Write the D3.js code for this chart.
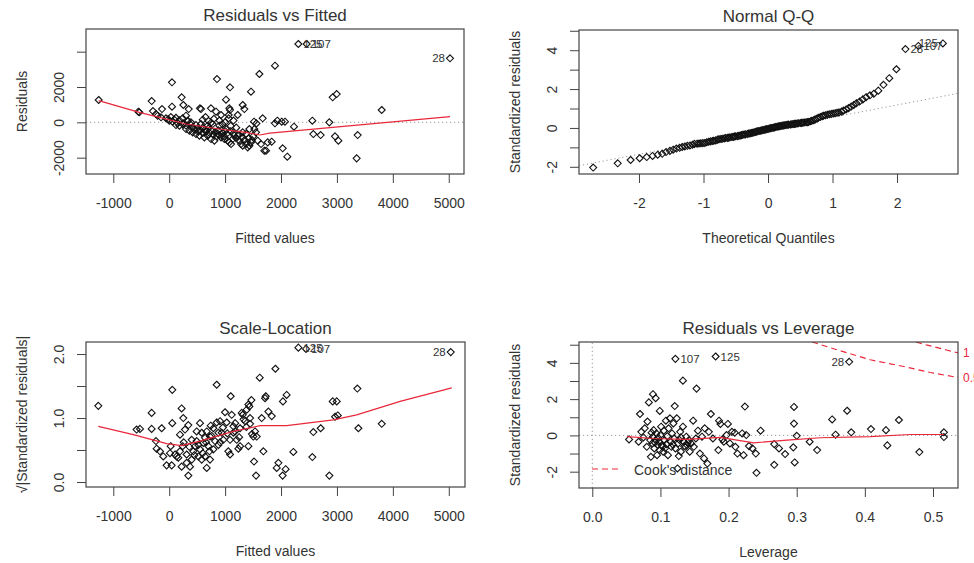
<!DOCTYPE html>
<html>
<head>
<meta charset="utf-8">
<script src="https://cdn.jsdelivr.net/npm/d3@7"></script>
<style>
  body { margin: 0; background: #fff; }
  svg { font-family: "Liberation Sans", Arial, sans-serif; }
</style>
</head>
<body>
<script>
// ---- data ----

// Residuals vs Fitted: [fitted, residual, id]
var rvfPoints = [
  [-1261,1264],[-552,603],[-534,566],[-313,1207],[-290,640],[-128,754],[-236,471],[-206,377],[-146,283],[-57,226],
  [3,94],[30,300],[-20,180],[60,40],[92,151],[120,260],[152,-38],[180,120],[50,2264],[50,886],
  [223,1415],[253,981],[349,754],[301,377],[241,226],[260,-60],[300,-180],[330,60],[380,-120],[420,-280],
  [551,792],[569,754],[748,792],[855,2452],[838,603],[927,415],[1016,1283],[1088,1981],[1076,792],[1088,697],
  [1064,226],[1064,415],[1225,415],[1315,981],[1344,754],[1463,1735],[1613,2736],[1672,226],[1892,3207],[1517,38],[1560,-60],
  [301,-378],[361,-472],[420,-567],[480,-661],[540,-755],[599,-600],[629,-850],[689,-755],[748,-944],[808,-1038],
  [867,-640],[927,-850],[987,-944],[1046,-1038],[1076,-1133],[1106,-1227],[1136,-944],[1166,-755],[1255,-1038],[1285,-1227],
  [1315,-1322],[1374,-1227],[1404,-1416],[1434,-1322],[1464,-1133],[1523,-378],[1553,-567],[1583,-1038],[1643,-1227],[1702,-1605],
  [1732,-1605],[1762,-1133],[1434,-378],[1315,-567],[1225,-755],[1016,-378],[897,-189],[778,-95],[689,-189],[569,-95],
  [480,-152],[390,-1],[331,94],[241,-95],[182,-189],[122,-152],
  [450,-400],[500,-350],[520,-500],[560,-450],[600,-300],[640,-420],[660,-520],[700,-350],[720,-600],[760,-480],
  [790,-700],[820,-560],[850,-800],[880,-450],[900,-720],[950,-600],[980,-780],[1000,-500],[1030,-650],[1100,-500],
  [1150,-620],[1200,-900],[1250,-700],[1300,-850],[1350,-1000],[1380,-650],[1420,-900],[1480,-1000],[1500,-800],
  [600,150],[650,300],[700,80],[750,-20],[800,200],[900,100],[950,-100],[1000,0],[1100,-200],[1150,100],[1200,-300],
  [2310,4434,"125"],[2459,4434,"107"],[5023,3622,"28"],[2924,1415],[2996,1603],[3801,698],[1934,94],[1892,-57],[2012,38],[2071,38],
  [2232,-246],[2560,94],[2864,-1],[2578,-661],[2709,-718],[2966,-793],[3026,-1038],[3371,-718],[3353,-2039],[1833,-1095],
  [2030,-1472],[2113,-1944]
];
var rvfSmooth = [[-1261,1225],[-535,568],[300,-94],[896,-377],[1372,-566],[1620,-715],[1800,-610],[5024,320]];

// Normal Q-Q: [theoretical quantile, standardized residual, id]
var qqPoints = [
  [-2.71,-2.04],[-2.33,-1.82],[-2.13,-1.65],[-1.99,-1.56],[-1.88,-1.50],[-1.79,-1.44],[-1.71,-1.38],[-1.64,-1.33],
  [-1.58,-1.24],[-1.52,-1.18],[-1.47,-1.12],[-1.42,-1.06],[-1.37,-1.02],[-1.33,-0.98],[-1.29,-0.95],[-1.25,-0.92],
  [-1.21,-0.90],[-1.17,-0.86],[-1.14,-0.82],[-1.10,-0.81],[-1.07,-0.80],[-1.04,-0.79],[-1.01,-0.78],[-0.98,-0.77],
  [-0.95,-0.74],[-0.92,-0.71],[-0.89,-0.69],[-0.86,-0.67],[-0.84,-0.66],[-0.81,-0.64],[-0.78,-0.60],[-0.76,-0.58],
  [-0.73,-0.57],[-0.71,-0.56],[-0.68,-0.54],[-0.66,-0.52],[-0.63,-0.51],[-0.61,-0.50],[-0.59,-0.48],[-0.56,-0.47],
  [-0.54,-0.46],[-0.52,-0.44],[-0.50,-0.43],[-0.47,-0.42],[-0.45,-0.40],[-0.43,-0.39],[-0.41,-0.37],[-0.39,-0.35],
  [-0.37,-0.34],[-0.35,-0.33],[-0.32,-0.31],[-0.30,-0.29],[-0.28,-0.28],[-0.26,-0.26],[-0.24,-0.25],[-0.22,-0.23],
  [-0.20,-0.21],[-0.18,-0.19],[-0.16,-0.17],[-0.14,-0.16],[-0.12,-0.14],[-0.10,-0.13],[-0.08,-0.11],[-0.06,-0.10],
  [-0.04,-0.08],[-0.02,-0.06],[0.00,-0.05],[0.02,-0.03],[0.04,-0.01],[0.06,0.00],[0.08,0.01],[0.10,0.03],
  [0.12,0.05],[0.14,0.06],[0.16,0.08],[0.18,0.09],[0.20,0.10],[0.22,0.12],[0.24,0.13],[0.26,0.14],
  [0.28,0.15],[0.30,0.16],[0.32,0.17],[0.35,0.18],[0.37,0.19],[0.39,0.20],[0.41,0.21],[0.43,0.22],
  [0.45,0.23],[0.47,0.24],[0.50,0.25],[0.52,0.26],[0.54,0.27],[0.56,0.28],[0.59,0.29],[0.61,0.30],
  [0.63,0.31],[0.66,0.34],[0.68,0.37],[0.71,0.40],[0.73,0.44],[0.76,0.48],[0.78,0.52],[0.81,0.56],
  [0.84,0.60],[0.86,0.63],[0.89,0.65],[0.92,0.68],[0.95,0.70],[0.98,0.72],[1.01,0.74],[1.04,0.76],
  [1.07,0.78],[1.10,0.80],[1.14,0.84],[1.17,0.89],[1.21,0.95],[1.25,1.02],[1.29,1.10],[1.33,1.18],
  [1.37,1.27],[1.42,1.36],[1.47,1.47],[1.52,1.58],[1.58,1.68],[1.64,1.76],[1.71,1.92],[1.79,2.22],
  [1.88,2.56],[1.99,3.02],[2.13,4.06,"28"],[2.33,4.22,"107"],[2.71,4.35,"125"]
];
var qqLine = [[-2.93,-1.94],[2.945,1.78]];

// Scale-Location: [fitted, sqrt(|standardized residual|), id]
var slPoints = [
  [-1268,1.19],[-583,0.82],[-523,0.83],[-314,1.08],[-314,0.83],[-135,0.84],[55,1.44],[55,0.92],[222,1.15],[252,1.00],
  [342,0.89],[-237,0.64],[-225,0.52],[-165,0.48],[-106,0.40],[-46,0.26],[44,0.26],[14,0.45],[26,0.56],[104,0.43],
  [163,0.38],[193,0.48],[240,0.56],[312,0.43],[342,0.10],[372,0.24],[402,0.35],[432,0.48],[462,0.56],[491,0.64],
  [521,0.40],[551,0.51],[581,0.35],[611,0.61],[641,0.69],[671,0.22],[700,0.56],[730,0.71],[551,0.92],[742,0.88],
  [849,1.52],[849,0.93],[909,0.95],[790,0.51],[820,0.64],[909,0.62],[938,0.77],[998,1.09],[1028,0.93],[1058,0.48],
  [1088,0.43],[1100,1.34],[1118,1.05],[1148,0.87],[1177,0.79],[1207,0.66],[1237,0.52],[1267,0.84],[1297,1.08],[1315,1.05],
  [1357,0.95],[1386,1.13],[1416,1.21],[1434,1.18],[1446,1.00],[1416,0.56],[1446,0.91],[1470,1.28],[1505,0.71],[1517,0.32],
  [1535,0.79],[1553,0.10],[1565,0.71],[1619,1.63],[1654,1.00],[1684,0.48],[1714,1.31],[1726,1.34],[1774,1.10],[1834,1.03],
  [1899,1.77],[1923,0.22],[1953,0.30],[2028,0.10],[2034,1.26],[2082,0.20],[2100,1.36],[2220,0.47],
  [2310,2.10,"125"],[2447,2.08,"107"],[2560,0.39],[2578,0.78],[2709,0.84],[2864,0.10],[2924,1.26],[2996,1.26],
  [2966,1.02],[3014,1.04],[3383,0.84],[3365,1.46],[3801,0.91],[5035,2.03,"28"],
  [193,0.74],[282,0.82],[402,0.66],[491,0.79],[581,0.77],[671,0.79],[790,0.84],[879,0.77],[968,0.66],[1267,0.56],
  [1088,0.66],[1148,0.77],[641,0.40],[730,0.35],[312,0.30],[222,0.24],[133,0.40],[260,0.62],[360,0.55],[450,0.42],
  [520,0.58],[600,0.45],[660,0.62],[720,0.48],[760,0.72],[880,0.58],[960,0.85],[1040,0.76],[1180,0.92],[1330,0.98],
  [1380,0.86],[1480,0.75],[1250,0.70]
];
var slSmooth = [[-1268,0.87],[-642,0.74],[-46,0.60],[225,0.57],[550,0.64],[1147,0.79],[1624,0.88],[2101,0.88],
  [2936,0.97],[3353,1.05],[4129,1.26],[5053,1.47]];

// Residuals vs Leverage: [leverage, standardized residual, id]
var rvlPoints = [
  [0.054,-0.22],[0.068,-0.35],[0.070,1.18],[0.072,0.20],[0.075,-0.11],[0.077,0.39],[0.080,-0.63],[0.081,0.76],
  [0.083,1.82],[0.085,-0.26],[0.086,-1.18],[0.087,0.15],[0.088,-0.44],[0.089,2.27],[0.089,-0.07],[0.090,0.29],
  [0.091,-0.72],[0.093,2.05],[0.093,-0.26],[0.094,0.11],[0.095,-1.09],[0.096,-0.53],[0.098,-0.35],[0.099,1.35],
  [0.099,-0.81],[0.100,0.02],[0.101,0.48],[0.103,-0.63],[0.104,-0.90],[0.105,0.26],[0.106,-0.26],[0.108,0.81],
  [0.109,-0.48],[0.110,-0.04],[0.111,-1.09],[0.112,0.39],[0.114,0.94],[0.115,-0.35],[0.116,-0.63],[0.117,0.11],
  [0.119,0.66],[0.120,-0.17],[0.121,1.62],[0.122,4.22,"107"],[0.122,-0.72],[0.124,0.94],[0.125,-1.82],[0.126,-0.44],
  [0.127,-1.14],[0.129,0.20],[0.130,-0.90],[0.130,-0.11],[0.133,3.02],[0.133,0.48],[0.134,-0.35],[0.137,-0.63],
  [0.138,-0.07],[0.139,-0.53],[0.142,-0.26],[0.143,-0.90],[0.145,-0.44],[0.148,0.81],[0.149,-0.63],[0.152,-0.17],
  [0.153,2.58],[0.155,0.26],[0.158,-1.00],[0.161,-0.07],[0.164,-1.27],[0.165,0.39],[0.169,-1.55],[0.171,0.20],
  [0.174,1.18],[0.177,-0.17],[0.181,4.35,"125"],[0.185,-0.81],[0.186,0.81],[0.188,0.63],[0.191,-0.22],[0.193,-0.35],
  [0.197,0.02],[0.199,0.63],[0.202,-0.44],[0.205,0.20],[0.209,0.15],[0.210,-0.63],[0.213,-1.00],[0.220,0.11],
  [0.222,-1.09],[0.224,1.59],[0.226,0.02],[0.230,-0.59],[0.235,-0.72],[0.240,-1.00],[0.241,-2.06],[0.247,0.26],
  [0.267,-0.48],[0.267,-1.62],[0.274,-0.72],[0.283,-1.03],[0.295,-0.66],[0.296,1.57],[0.296,0.65],[0.297,-1.49],
  [0.300,-0.02],[0.319,-0.35],[0.330,-0.81],[0.352,0.88],[0.357,0.04],[0.374,1.36],[0.377,4.06,"28"],[0.380,0.17],
  [0.409,0.35],[0.431,0.29],[0.433,-0.55],[0.450,0.85],[0.480,-0.92],[0.516,0.17],[0.516,-0.09],
  [0.092,-0.40],[0.097,-0.15],[0.102,-0.55],[0.107,-0.70],[0.118,-0.50],[0.128,-0.25],[0.135,-0.60],[0.140,-0.40]
];
var rvlSmooth = [[0.051,-0.07],[0.090,-0.17],[0.139,-0.22],[0.188,-0.11],[0.237,-0.41],[0.286,-0.26],
  [0.335,-0.13],[0.408,-0.07],[0.467,0.05],[0.516,0.05]];

// Cook's distance contours (0.5 and 1)
var cookHalf = [[0.3226,5.15],[0.3592,4.72],[0.408,4.17],[0.457,3.80],[0.496,3.47],[0.5367,3.19]];
var cookOne = [[0.475,5.15],[0.49,4.99],[0.50,4.90],[0.52,4.71],[0.5367,4.55]];
var cookLevels = ["0.5", "1"];

// Tick values
var fittedTicks = [-1000, 0, 1000, 2000, 3000, 4000, 5000];
var residTicks = [-2000, 0, 2000, 4000];
var residLabelled = [-2000, 0, 2000];
var quantTicks = [-2, -1, 0, 1, 2];
var stdTicks = [-2, -1, 0, 1, 2, 3, 4, 5];
var stdLabelled = [-2, 0, 2, 4];
var sqrtTicks = [0, 0.5, 1, 1.5, 2];
var sqrtLabelled = [0, 1, 2];
var leverageTicks = [0, 0.1, 0.2, 0.3, 0.4, 0.5];

// ---- drawing ----
var textColor = "#333";
var red = "#e8283a";

var svg = d3.select("body")
  .append("svg")
  .attr("width", 974)
  .attr("height", 563);

var diamond = "M0,-3.5L3.5,0L0,3.5L-3.5,0Z";

function onlySome(list, fmt) {
  return function (d) {
    return list.indexOf(d) >= 0 ? fmt(d) : "";
  };
}

function drawPanel(p) {
  var x = d3.scaleLinear().domain(p.xDomain).range([p.box.left, p.box.right]);
  var y = d3.scaleLinear().domain(p.yDomain).range([p.box.bottom, p.box.top]);

  var g = svg.append("g");

  // clip everything plotted to the box
  g.append("clipPath")
    .attr("id", "clip" + p.id)
    .append("rect")
    .attr("x", p.box.left)
    .attr("y", p.box.top)
    .attr("width", p.box.right - p.box.left)
    .attr("height", p.box.bottom - p.box.top);

  var plot = g.append("g").attr("clip-path", "url(#clip" + p.id + ")");

  // bottom axis
  g.append("g")
    .attr("transform", "translate(0," + p.box.bottom + ")")
    .call(d3.axisBottom(x).tickValues(p.xTicks).tickFormat(p.xFormat).tickSize(9).tickSizeOuter(0))
    .call(function (a) {
      a.select(".domain").remove();
      a.attr("font-size", 14).attr("font-family", null).attr("color", "#444");
      a.selectAll("text").attr("y", 34).attr("dy", 0).attr("fill", textColor);
    });

  // left axis, labels parallel to the axis like R
  g.append("g")
    .attr("transform", "translate(" + p.box.left + ",0)")
    .call(d3.axisLeft(y).tickValues(p.yTicks).tickFormat(p.yFormat).tickSize(9).tickSizeOuter(0))
    .call(function (a) {
      a.select(".domain").remove();
      a.attr("font-size", 14).attr("font-family", null).attr("color", "#444");
      a.selectAll("text")
        .attr("transform", "rotate(-90)")
        .attr("x", 0)
        .attr("y", -22)
        .attr("dy", 0)
        .attr("text-anchor", "middle")
        .attr("fill", textColor);
    });

  // reference lines
  (p.refLines || []).forEach(function (l) {
    plot.append("path")
      .attr("d", d3.line().x(function (d) { return x(d[0]); }).y(function (d) { return y(d[1]); })(l))
      .attr("fill", "none")
      .attr("stroke", "#999")
      .attr("stroke-dasharray", "1.2,2.8");
  });

  // points
  plot.selectAll(".pt")
    .data(p.points)
    .enter()
    .append("path")
    .attr("d", diamond)
    .attr("transform", function (d) { return "translate(" + x(d[0]) + "," + y(d[1]) + ")"; })
    .attr("fill", "none")
    .attr("stroke", "#111")
    .attr("stroke-width", 1.1);

  // smoother
  if (p.smooth) {
    plot.append("path")
      .attr("d", d3.line().x(function (d) { return x(d[0]); }).y(function (d) { return y(d[1]); })(p.smooth))
      .attr("fill", "none")
      .attr("stroke", red)
      .attr("stroke-width", 1.2);
  }

  // point ids
  g.selectAll(".lab")
    .data(p.points.filter(function (d) { return d[2]; }))
    .enter()
    .append("text")
    .attr("x", function (d) { return p.leftIds.indexOf(d[2]) >= 0 ? x(d[0]) - 5 : x(d[0]) + 5; })
    .attr("y", function (d) { return y(d[1]) + 4; })
    .attr("text-anchor", function (d) { return p.leftIds.indexOf(d[2]) >= 0 ? "end" : "start"; })
    .attr("font-size", 11.5)
    .attr("fill", textColor)
    .text(function (d) { return d[2]; });

  // box
  g.append("rect")
    .attr("x", p.box.left)
    .attr("y", p.box.top)
    .attr("width", p.box.right - p.box.left)
    .attr("height", p.box.bottom - p.box.top)
    .attr("fill", "none")
    .attr("stroke", "#444")
    .attr("stroke-width", 1.2);

  // titles
  var cx = (p.box.left + p.box.right) / 2;
  var cy = (p.box.top + p.box.bottom) / 2;
  g.append("text")
    .attr("x", cx)
    .attr("y", p.box.top - 8)
    .attr("text-anchor", "middle")
    .attr("font-size", 17)
    .attr("fill", textColor)
    .text(p.title);
  g.append("text")
    .attr("x", cx)
    .attr("y", p.box.bottom + 69)
    .attr("text-anchor", "middle")
    .attr("font-size", 14)
    .attr("fill", textColor)
    .text(p.xTitle);
  g.append("text")
    .attr("transform", "translate(" + (p.box.left - 59) + "," + cy + ") rotate(-90)")
    .attr("text-anchor", "middle")
    .attr("font-size", 14)
    .attr("fill", textColor)
    .text(p.yTitle);

  return { x: x, y: y, g: g, plot: plot };
}

var plain = function (d) { return String(d); };
var oneDec = function (d) { return d.toFixed(1); };

drawPanel({
  id: 1,
  box: { left: 86, right: 464, top: 29, bottom: 174 },
  xDomain: [-1488, 5273], yDomain: [-2924, 5283],
  xTicks: fittedTicks, xFormat: plain,
  yTicks: residTicks, yFormat: onlySome(residLabelled, plain),
  points: rvfPoints, smooth: rvfSmooth, leftIds: ["28"],
  refLines: [[[-1488, 0], [5273, 0]]],
  title: "Residuals vs Fitted", xTitle: "Fitted values", yTitle: "Residuals"
});

drawPanel({
  id: 2,
  box: { left: 579, right: 958, top: 30, bottom: 174 },
  xDomain: [-2.93, 2.945], yDomain: [-2.37, 5.04],
  xTicks: quantTicks, xFormat: plain,
  yTicks: stdTicks, yFormat: onlySome(stdLabelled, plain),
  points: qqPoints, smooth: null, leftIds: ["125"],
  refLines: [qqLine],
  title: "Normal Q-Q", xTitle: "Theoretical Quantiles", yTitle: "Standardized residuals"
});

drawPanel({
  id: 3,
  box: { left: 86, right: 465, top: 342, bottom: 487 },
  xDomain: [-1488, 5290], yDomain: [-0.078, 2.188],
  xTicks: fittedTicks, xFormat: plain,
  yTicks: sqrtTicks, yFormat: onlySome(sqrtLabelled, oneDec),
  points: slPoints, smooth: slSmooth, leftIds: ["28"],
  refLines: [],
  title: "Scale-Location", xTitle: "Fitted values", yTitle: "\u221A|Standardized residuals|"
});

var p4 = drawPanel({
  id: 4,
  box: { left: 579, right: 958, top: 342, bottom: 488 },
  xDomain: [-0.0195, 0.5367], yDomain: [-2.9, 5.15],
  xTicks: leverageTicks, xFormat: oneDec,
  yTicks: stdTicks, yFormat: onlySome(stdLabelled, plain),
  points: rvlPoints, smooth: rvlSmooth, leftIds: ["28"],
  refLines: [[[-0.0195, 0], [0.5367, 0]], [[0, -2.9], [0, 5.15]]],
  title: "Residuals vs Leverage", xTitle: "Leverage", yTitle: "Standardized residuals"
});

// Cook's distance contours
var cookLine = d3.line()
  .x(function (d) { return p4.x(d[0]); })
  .y(function (d) { return p4.y(d[1]); });

[cookHalf, cookOne].forEach(function (c, i) {
  p4.plot.append("path")
    .attr("d", cookLine(c))
    .attr("fill", "none")
    .attr("stroke", red)
    .attr("stroke-width", 1.2)
    .attr("stroke-dasharray", "6,4");
  var end = c[c.length - 1];
  p4.g.append("text")
    .attr("x", p4.x(end[0]) + 5)
    .attr("y", p4.y(end[1]) + 4)
    .attr("font-size", 12)
    .attr("fill", red)
    .text(cookLevels[i]);
});

// legend
p4.g.append("line")
  .attr("x1", 592).attr("x2", 620)
  .attr("y1", 469).attr("y2", 469)
  .attr("stroke", red)
  .attr("stroke-width", 1.2)
  .attr("stroke-dasharray", "6,4");
p4.g.append("text")
  .attr("x", 634)
  .attr("y", 475)
  .attr("font-size", 14)
  .attr("fill", textColor)
  .text("Cook's distance");
</script>
</body>
</html>
